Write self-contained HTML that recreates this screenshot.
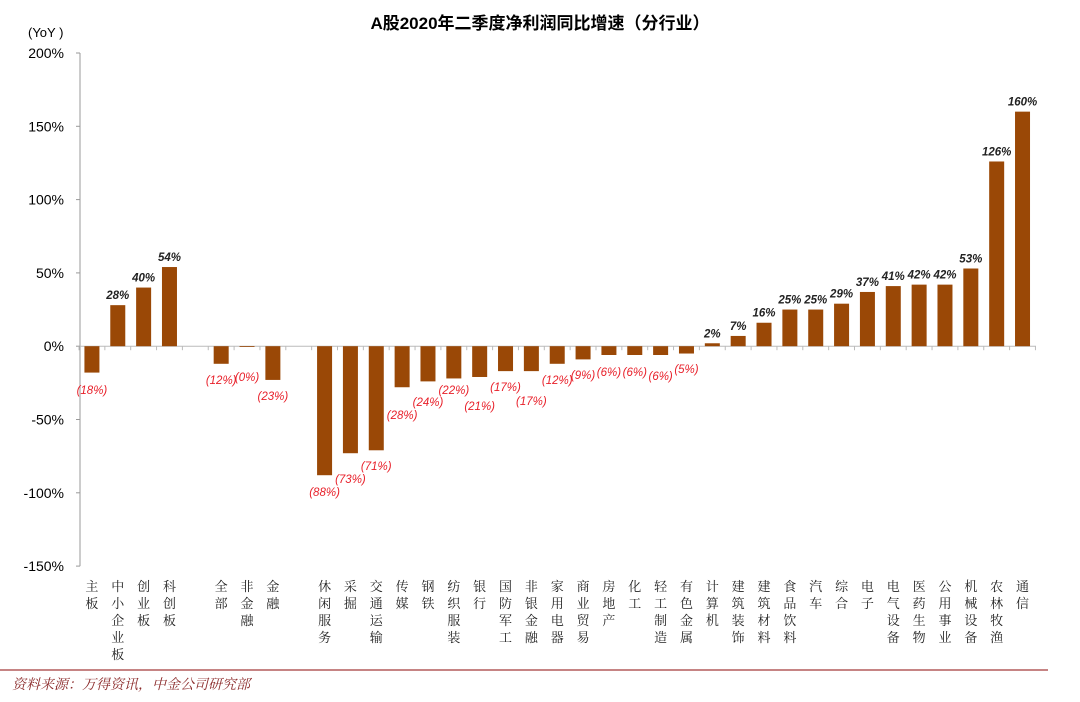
<!DOCTYPE html>
<html><head><meta charset="utf-8"><style>
html,body{margin:0;padding:0;background:#fff;width:1080px;height:702px;overflow:hidden}
svg{display:block}
</style></head><body>
<svg id="c" width="1080" height="702" xmlns="http://www.w3.org/2000/svg" font-family="'Liberation Sans','Noto Sans CJK SC',sans-serif">
<text x="540" y="29" text-anchor="middle" font-size="17" font-weight="bold" fill="#000">A股2020年二季度净利润同比增速（分行业）</text>
<text x="28" y="37" font-size="13" fill="#000">(YoY )</text>
<line x1="0" y1="670" x2="1048" y2="670" stroke="#a33a3a" stroke-width="1.2"/>
<text x="12" y="689" font-size="14" font-style="italic" fill="#8b2a2a" font-family="'Noto Serif CJK SC',serif">资料来源：万得资讯，中金公司研究部</text>
</svg>
<script>
var s=document.getElementById('c'),NS='http://www.w3.org/2000/svg';
function el(t,a,tx){var e=document.createElementNS(NS,t);for(var k in a)e.setAttribute(k,a[k]);if(tx!=null)e.textContent=tx;s.appendChild(e);return e;}
var y0=346.2,k=1.466,ax=80;
function Y(v){return y0-v*k;}
el('line',{x1:ax,y1:Y(200),x2:ax,y2:Y(-150),stroke:'#999','stroke-width':1});
for(var v=-150;v<=200;v+=50){el('line',{x1:ax-4,y1:Y(v),x2:ax,y2:Y(v),stroke:'#999'});
el('text',{x:64,y:Y(v)+5,'text-anchor':'end','font-size':14,fill:'#000'},v+'%');}
el('line',{x1:ax,y1:y0,x2:1036,y2:y0,stroke:'#bbb'});
for(var i=0;i<=37;i++){var x=79+i*25.85;el('line',{x1:x,y1:y0,x2:x,y2:y0+4,stroke:'#bbb'});}
var d=[[0,'主板',-18,390],[1,'中小企业板',28],[2,'创业板',40],[3,'科创板',54],[5,'全部',-12,380],[6,'非金融',-0.4,377],[7,'金融',-23,396],
[9,'休闲服务',-88,492],[10,'采掘',-73,479],[11,'交通运输',-71,466],[12,'传媒',-28,415],[13,'钢铁',-24,402],[14,'纺织服装',-22,390],[15,'银行',-21,406],[16,'国防军工',-17,387],[17,'非银金融',-17,401],[18,'家用电器',-12,380],[19,'商业贸易',-9,375],[20,'房地产',-6,372],[21,'化工',-6,372],[22,'轻工制造',-6,376],[23,'有色金属',-5,369],
[24,'计算机',2],[25,'建筑装饰',7],[26,'建筑材料',16],[27,'食品饮料',25],[28,'汽车',25],[29,'综合',29],[30,'电子',37],[31,'电气设备',41],[32,'医药生物',42],[33,'公用事业',42],[34,'机械设备',53],[35,'农林牧渔',126],[36,'通信',160]];
d.forEach(function(r){var cx=79+(r[0]+0.5)*25.85,v=r[2];
var top=Math.min(Y(v),y0),h=Math.abs(v*k);
el('rect',{x:cx-7.5,y:top,width:15,height:Math.max(h,0.8),fill:'#9a4806'});
var lab=(v<0?'('+Math.round(-v)+'%)':v+'%');
if(v<0)el('text',{x:cx,y:r[3]+4,'text-anchor':'middle','font-size':11.5,'font-style':'italic',fill:'#e8202a'},lab);
else el('text',{x:cx,y:Y(v)-6,'text-anchor':'middle','font-size':11.5,'font-style':'italic','font-weight':'bold',fill:'#222'},lab);
var ch=r[1].split('');ch.forEach(function(c,j){el('text',{x:cx,y:591+j*17,'text-anchor':'middle','font-size':13,fill:'#222','font-family':"'Noto Serif CJK SC',serif"},c);});
});
</script>
</body></html>
